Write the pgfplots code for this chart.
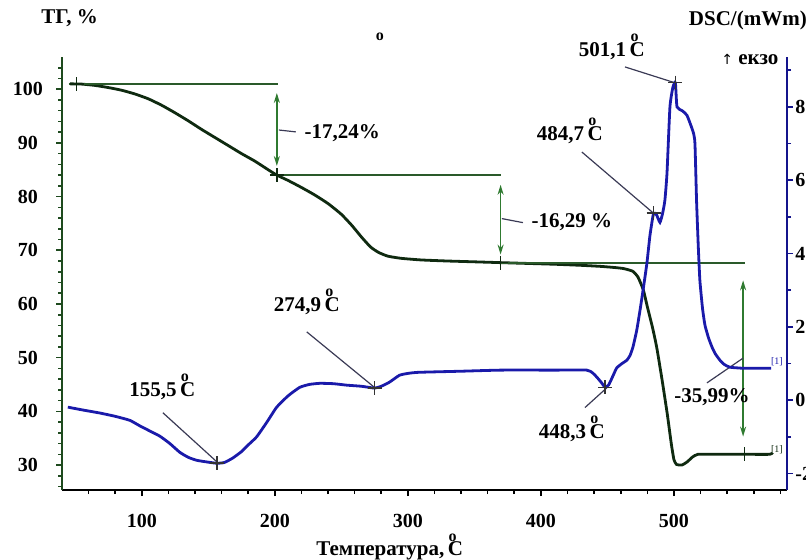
\documentclass[border=0pt]{standalone}
\usepackage{fontspec}
\setmainfont{Liberation Serif}
\newfontfamily\symfont{DejaVu Sans}
\usepackage{pgfplots}
\pgfplotsset{compat=1.18}
\usetikzlibrary{arrows.meta}
\definecolor{tgcurve}{HTML}{0F2A10}
\definecolor{tgline}{HTML}{2A5A2A}
\definecolor{tgarrow}{HTML}{2F7A30}
\definecolor{tgaxis}{HTML}{1E4A1E}
\definecolor{dsccurve}{HTML}{1A1AAA}
\definecolor{dscaxis}{HTML}{14148C}
\definecolor{leader}{HTML}{3A3A55}
\newcommand{\dC}{\,\rlap{\raisebox{1.55ex}{\fontsize{8}{8}\selectfont\hspace{0.05em}o}}C}
\newcommand{\annfont}{\bfseries\fontsize{10.5}{12}\selectfont}
\begin{document}
\begin{tikzpicture}
\begin{axis}[
  name=main,
  scale only axis, width=362.5pt, height=216.5pt,
  xmin=40, xmax=585, ymin=25.35, ymax=106,
  axis x line*=bottom, axis y line*=left,
  clip=false,
  xtick={100,200,...,500}, minor xtick={60,80,120,140,160,180,220,240,260,280,320,340,360,380,420,440,460,480,520,540,560,580},
  ytick={30,40,...,100}, minor ytick={26,28,...,104},
  tick align=outside, major tick length=3pt, minor tick length=2pt,
  x axis line style={black, line width=1.3pt},
  y axis line style={tgaxis, line width=1.1pt},
  xtick style={black, line width=0.8pt},
  ytick style={tgaxis, line width=0.8pt},
  /pgf/number format/assume math mode=true,
  tick label style={font=\bfseries\fontsize{10}{12}\selectfont},
  xticklabel style={inner sep=0pt, yshift=-9pt},
  yticklabel style={inner sep=0pt, anchor=center, xshift=-14pt},
]
% TG curve
\addplot[tgcurve, line width=1.4pt, smooth, tension=0.3] coordinates {
(46,101.0)(55,100.95)(65,100.7)(75,100.3)(85,99.8)(95,99.1)(105,98.2)(115,97.0)(125,95.6)(135,94.1)(145,92.5)(155,91.0)(165,89.5)(175,88.0)(185,86.6)(195,85.0)(201.5,84.0)(210,83.0)(220,81.7)(230,80.3)(240,78.7)(250,76.7)(258,74.6)(265,72.5)(272,70.6)(278,69.6)(285,68.9)(295,68.5)(310,68.2)(330,68.0)(350,67.85)(369.7,67.7)(390,67.55)(410,67.4)(430,67.2)(445,67.0)(455,66.8)(462,66.6)(469,66.1)(473,65.0)(477,62.6)(480,59.5)(484,55.5)(487,52.0)(491,46.0)(495,39.5)(498,34.0)(500,31.0)(502,30.1)(506,30.0)(510,30.6)(514,31.5)(518,32.0)(530,32.0)(553,32.0)(572,32.0)(574,32.3)
};
% step lines
\addplot[tgline, line width=1pt] coordinates {(45,101.0)(202.2,101.0)};
\addplot[tgline, line width=1pt] coordinates {(201.5,84.0)(370,84.0)};
\addplot[tgline, line width=1pt] coordinates {(369.7,67.7)(553.4,67.7)};
% TG markers
\addplot[only marks, mark=+, mark size=3.5pt, tgcurve, line width=0.8pt] coordinates {(51,100.95)(201.5,84.0)(369.7,67.7)(553,32.0)};
% arrows
\draw[tgarrow, line width=0.8pt, {Stealth[length=5pt,width=3pt]}-{Stealth[length=5pt,width=3pt]}] (axis cs:201.5,99.3) -- (axis cs:201.5,85.7);
\draw[tgarrow, line width=0.8pt, {Stealth[length=5pt,width=3pt]}-{Stealth[length=5pt,width=3pt]}] (axis cs:369.7,82.2) -- (axis cs:369.7,69.2);
\draw[tgarrow, line width=0.8pt, {Stealth[length=5pt,width=3pt]}-{Stealth[length=5pt,width=3pt]}] (axis cs:552,64.4) -- (axis cs:552,35.3);
% leader lines
\draw[leader, line width=0.6pt] (axis cs:203,92.4) -- (axis cs:215.8,92.05);
\draw[leader, line width=0.6pt] (axis cs:370.7,75.9) -- (axis cs:386.5,75.15);
\draw[leader, line width=0.6pt] (axis cs:524.8,45.3) -- (axis cs:551.9,49.9);
\draw[leader, line width=0.6pt] (axis cs:115.8,39.75) -- (axis cs:156.4,30.6);
\draw[leader, line width=0.6pt] (axis cs:224,54.8) -- (axis cs:275.2,44.4);
\draw[leader, line width=0.6pt] (axis cs:433.1,40.7) -- (axis cs:449.6,44.4);
\draw[leader, line width=0.6pt] (axis cs:430.8,88.3) -- (axis cs:484.2,77.0);
\draw[leader, line width=0.6pt] (axis cs:463.2,104.15) -- (axis cs:500.7,101.2);
% annotation texts
\node[font=\annfont] at (axis cs:250.7,91.9) {-17,24\%};
\node[font=\annfont] at (axis cs:423.3,75.3) {-16,29 \%};
\node[font=\annfont] at (axis cs:528.6,42.7) {-35,99\%};
\node[font=\annfont] at (axis cs:115.4,44.6) {155,5\dC};
\node[font=\annfont] at (axis cs:224,60.4) {274,9\dC};
\node[font=\annfont] at (axis cs:423.3,36.8) {448,3\dC};
\node[font=\annfont] at (axis cs:421.8,92.2) {484,7\dC};
\node[font=\annfont] at (axis cs:453.4,107.9) {501,1\dC};
\node[font=\bfseries\fontsize{8}{8}\selectfont] at (axis cs:278.9,109.7) {o};
\node[font=\annfont] at (axis cs:45.8,113.3) {ТГ, \%};
\node[font=\annfont] at (axis cs:555.6,112.9) {DSC/(mWm)};
\node[font=\annfont] at (axis cs:557.1,105.45) {{\symfont\mdseries\fontsize{7}{8}\selectfont ↑} екзо};
\node[font=\fontsize{5}{5}\selectfont, tgcurve] at (axis cs:577.4,32.9) {[1]};
\node[font=\fontsize{5}{5}\selectfont, dsccurve] at (axis cs:577.4,49.3) {[1]};
\node[font=\bfseries\fontsize{10.5}{12}\selectfont] at ([yshift=-28.5pt]rel axis cs:0.452,0) {Температура,\dC};
\end{axis}
\begin{axis}[
  scale only axis, width=362.5pt, height=216.5pt,
  xmin=40, xmax=585, ymin=-2.45, ymax=9.36,
  axis x line=none, axis y line*=right,
  clip=false,
  ytick={-2,0,...,8}, minor ytick={-1,1,...,9},
  tick align=outside, major tick length=3pt, minor tick length=2pt,
  y axis line style={dscaxis, line width=1.1pt},
  ytick style={dscaxis, line width=0.8pt},
  /pgf/number format/assume math mode=true,
  tick label style={font=\bfseries\fontsize{10}{12}\selectfont},
  yticklabel style={inner sep=0pt, anchor=west, xshift=1pt},
]
\addplot[dsccurve, line width=1.4pt, smooth, tension=0.3] coordinates {
(44.4,-0.19)(56,-0.27)(68.4,-0.35)(80,-0.44)(91,-0.55)(98.5,-0.70)(106,-0.84)(113.5,-0.98)(121,-1.18)(128.5,-1.42)(135,-1.56)(141.3,-1.64)(148,-1.68)(156.3,-1.72)(162,-1.70)(168.3,-1.58)(175,-1.40)(180,-1.22)(186.3,-1.0)(194,-0.6)(201.4,-0.19)(210,0.12)(218.7,0.35)(226,0.43)(233.8,0.46)(244,0.45)(254,0.41)(265,0.38)(275,0.33)(280,0.38)(286.1,0.49)(293.7,0.68)(300,0.73)(308,0.76)(340,0.79)(370,0.82)(410,0.82)(434.5,0.82)(439,0.74)(442,0.63)(445.5,0.48)(448.3,0.35)(451,0.42)(454,0.65)(457,0.88)(461,1.0)(464.6,1.09)(467,1.22)(469.2,1.45)(472,1.9)(474.5,2.45)(477,3.05)(479.7,3.74)(482,4.5)(484.7,5.1)(487,5.05)(489.5,4.85)(491.5,5.1)(493.2,5.45)(494.8,6.2)(497,8.0)(499.3,8.55)(501.1,8.66)(502.3,8.0)(506,7.9)(509.8,7.77)(514.5,7.31)(515.8,7.0)(517,5.45)(518.3,4.2)(519.5,3.27)(521.5,2.5)(523.3,2.05)(526,1.7)(528.6,1.45)(531,1.27)(534.6,1.09)(538,0.97)(542,0.9)(548,0.88)(553,0.87)(573,0.87)
};
\addplot[only marks, mark=+, mark size=3.5pt, black!80, line width=0.8pt] coordinates {(156.3,-1.72)(275,0.33)(448.3,0.35)(484.7,5.1)(501.1,8.66)};
\end{axis}
\pgfresetboundingbox
\path[use as bounding box] ([xshift=-31pt,yshift=-34.5pt]main.south west) rectangle ([xshift=9.5pt,yshift=28.5pt]main.north east);
\end{tikzpicture}
\end{document}
